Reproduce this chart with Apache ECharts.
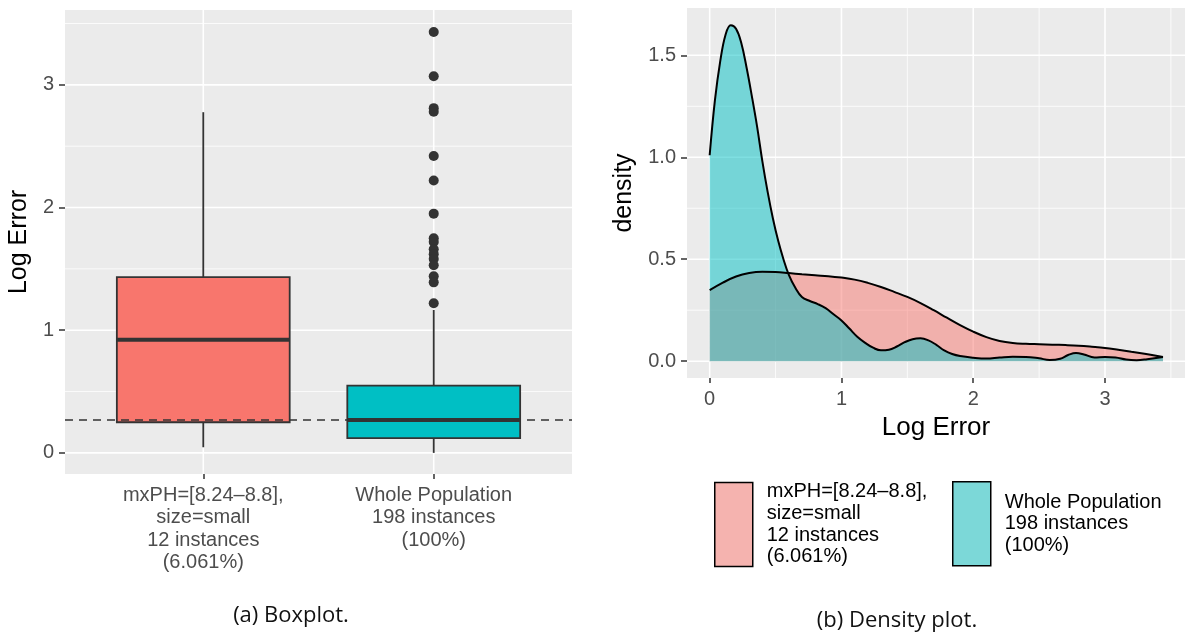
<!DOCTYPE html>
<html>
<head>
<meta charset="utf-8">
<script src="https://cdn.jsdelivr.net/npm/echarts@6/dist/echarts.min.js"></script>
<style>
  html, body { margin: 0; padding: 0; background: #ffffff; }
  #chart { width: 1185px; height: 637px; }
</style>
</head>
<body>
<div id="chart"></div>
<script>
// ---- data ----
const groupLabels = ['mxPH=[8.24\u20138.8],\nsize=small\n12 instances\n(6.061%)', 'Whole Population\n198 instances\n(100%)'];
const groupNames = ['subset', 'whole'];
const groupColors = ['#F8766D', '#00BFC4'];
// [position, lower whisker, Q1, median, Q3, upper whisker]
const subsetBox = [1, 0.046, 0.25, 0.923, 1.432, 2.777];
const wholeBox = [2, 0.0, 0.12, 0.269, 0.548, 1.165];
const wholeOutliers = [3.43, 3.07, 2.81, 2.78, 2.42, 2.22, 1.95, 1.75, 1.72, 1.66, 1.62, 1.58, 1.53, 1.44, 1.39, 1.22];
const boxTicks = [0, 1, 2, 3];
const boxMinor = [0.5, 1.5, 2.5, 3.5];

// density estimates over Log Error
const subsetDensityX = [0, 0.1, 0.2, 0.3, 0.4, 0.5, 0.6, 0.7, 0.8, 0.9, 1.0, 1.1, 1.2, 1.3, 1.4, 1.5, 1.6, 1.7, 1.8, 1.9, 2.0, 2.1, 2.2, 2.3, 2.4, 2.5, 2.6, 2.7, 2.8, 2.9, 3.0, 3.1, 3.2, 3.3, 3.44];
const subsetDensityY = [0.348, 0.385, 0.415, 0.432, 0.438, 0.437, 0.432, 0.426, 0.421, 0.417, 0.41, 0.40, 0.384, 0.364, 0.34, 0.315, 0.285, 0.25, 0.213, 0.177, 0.145, 0.118, 0.099, 0.089, 0.085, 0.083, 0.081, 0.079, 0.076, 0.071, 0.065, 0.056, 0.046, 0.036, 0.021];
const wholeDensityX = [0, 0.04, 0.08, 0.12, 0.16, 0.20, 0.24, 0.28, 0.32, 0.36, 0.40, 0.44, 0.48, 0.52, 0.56, 0.60, 0.65, 0.70, 0.76, 0.82, 0.88, 0.94, 1.0, 1.06, 1.12, 1.18, 1.24, 1.30, 1.36, 1.42, 1.48, 1.54, 1.60, 1.66, 1.72, 1.78, 1.84, 1.90, 2.0, 2.1, 2.2, 2.3, 2.4, 2.5, 2.58, 2.66, 2.72, 2.78, 2.84, 2.92, 3.0, 3.08, 3.16, 3.24, 3.32, 3.44];
const wholeDensityY = [1.01, 1.28, 1.47, 1.60, 1.648, 1.63, 1.56, 1.44, 1.30, 1.15, 0.98, 0.83, 0.70, 0.59, 0.50, 0.425, 0.36, 0.315, 0.295, 0.28, 0.26, 0.23, 0.20, 0.16, 0.12, 0.09, 0.066, 0.053, 0.056, 0.072, 0.093, 0.108, 0.112, 0.102, 0.08, 0.053, 0.035, 0.025, 0.017, 0.013, 0.018, 0.022, 0.021, 0.014, 0.006, 0.012, 0.03, 0.04, 0.033, 0.018, 0.02, 0.018, 0.008, 0.005, 0.01, 0.021];
const densityXTicks = [0, 1, 2, 3];
const densityXMinor = [0.5, 1.5, 2.5, 3.5];
const densityYTicks = [0, 0.5, 1.0, 1.5];
const densityYMinor = [0.25, 0.75, 1.25];
const captions = ['(a) Boxplot.', '(b) Density plot.'];

// ---- helpers ----
const FONT = '"Liberation Sans", Arial, Helvetica, sans-serif';
const INK = '#333333';
const BOX_WIDTH = 0.75;
const BOX_X = [0.4, 2.6], BOX_Y = [-0.172, 3.61];
const DEN_X = [-0.172, 3.607], DEN_Y = [-0.0825, 1.732];
const DENSITY_FILLS = ['rgba(248,118,109,0.5)', 'rgba(0,191,196,0.5)'];
const KEY_FILLS = ['#F5B3AF', '#7CD8D8'];

function zip(xs, ys) { return xs.map((x, i) => [x, ys[i]]); }

// white panel grid lines: [value, orientation (0 horizontal, 1 vertical), major(1)|minor(0)]
function gridLineData(hMajor, hMinor, vMajor, vMinor) {
  return [].concat(
    hMinor.map(v => [v, 0, 0]), vMinor.map(v => [v, 1, 0]),
    hMajor.map(v => [v, 0, 1]), vMajor.map(v => [v, 1, 1]));
}
function gridLineSeries(gridIdx, xr, yr, data) {
  return {
    type: 'custom', xAxisIndex: gridIdx, yAxisIndex: gridIdx, z: 1, silent: true,
    data: data,
    renderItem: function (params, api) {
      const v = api.value(0), vert = api.value(1) === 1, major = api.value(2) === 1;
      const a = vert ? api.coord([v, yr[0]]) : api.coord([xr[0], v]);
      const b = vert ? api.coord([v, yr[1]]) : api.coord([xr[1], v]);
      return {
        type: 'line', shape: { x1: a[0], y1: a[1], x2: b[0], y2: b[1] },
        style: { stroke: '#ffffff', lineWidth: major ? 1.6 : 0.8 }
      };
    },
    clip: true
  };
}

function legendFor(i, left) {
  return {
    data: [{ name: groupNames[i], itemStyle: { color: KEY_FILLS[i], borderColor: '#000', borderWidth: 1.5 } }],
    left: left, top: 476, itemWidth: 38, itemHeight: 84, icon: 'rect',
    formatter: () => groupLabels[i],
    textStyle: { fontSize: 20, lineHeight: 21.7, color: '#000', fontFamily: FONT, padding: [0, 0, 0, 9] },
    selectedMode: false
  };
}

function densitySeries(i, xs, ys) {
  return {
    type: 'line', name: groupNames[i], xAxisIndex: 1, yAxisIndex: 1, z: 3,
    data: zip(xs, ys),
    smooth: 0.4, showSymbol: false, symbol: 'none',
    itemStyle: { color: DENSITY_FILLS[i] },
    lineStyle: { color: '#000000', width: 2 },
    areaStyle: { color: DENSITY_FILLS[i], opacity: 1, origin: 0 }
  };
}

const chart = echarts.init(document.getElementById('chart'), null, { renderer: 'canvas' });

const option = {
  animation: false,
  backgroundColor: '#ffffff',
  textStyle: { fontFamily: FONT },
  grid: [
    { left: 65, top: 10, width: 507, height: 464, show: true, backgroundColor: '#EBEBEB', borderWidth: 0 },
    { left: 687, top: 8, width: 500, height: 370, show: true, backgroundColor: '#EBEBEB', borderWidth: 0 }
  ],
  xAxis: [
    {
      type: 'value', gridIndex: 0, min: BOX_X[0], max: BOX_X[1],
      splitLine: { show: false }, axisLine: { show: false, onZero: false },
      axisTick: { show: true, customValues: [1, 2], length: 5, lineStyle: { color: INK, width: 1.5 } },
      axisLabel: {
        customValues: [1, 2], color: '#4D4D4D', fontSize: 20, lineHeight: 22.5, margin: 10,
        fontFamily: FONT, formatter: v => groupLabels[Math.round(v) - 1]
      }
    },
    {
      type: 'value', gridIndex: 1, min: DEN_X[0], max: DEN_X[1],
      splitLine: { show: false }, axisLine: { show: false, onZero: false },
      axisTick: { show: true, customValues: densityXTicks, length: 5, lineStyle: { color: INK, width: 1.5 } },
      axisLabel: { customValues: densityXTicks, color: '#4D4D4D', fontSize: 20, margin: 11, fontFamily: FONT },
      name: 'Log Error', nameLocation: 'middle', nameGap: 37,
      nameTextStyle: { fontSize: 26, color: '#000000', fontFamily: FONT }
    }
  ],
  yAxis: [
    {
      type: 'value', gridIndex: 0, min: BOX_Y[0], max: BOX_Y[1],
      splitLine: { show: false }, axisLine: { show: false, onZero: false },
      axisTick: { show: true, customValues: boxTicks, length: 6, lineStyle: { color: INK, width: 1.5 } },
      axisLabel: { customValues: boxTicks, color: '#4D4D4D', fontSize: 20, margin: 11, fontFamily: FONT },
      name: 'Log Error', nameLocation: 'middle', nameGap: 33,
      nameTextStyle: { fontSize: 25, color: '#000000', fontFamily: FONT }
    },
    {
      type: 'value', gridIndex: 1, min: DEN_Y[0], max: DEN_Y[1],
      splitLine: { show: false }, axisLine: { show: false, onZero: false },
      axisTick: { show: true, customValues: densityYTicks, length: 6, lineStyle: { color: INK, width: 1.5 } },
      axisLabel: {
        customValues: densityYTicks, color: '#4D4D4D', fontSize: 20, margin: 11, fontFamily: FONT,
        formatter: v => v.toFixed(1)
      },
      name: 'density', nameLocation: 'middle', nameGap: 50,
      nameTextStyle: { fontSize: 25, color: '#000000', fontFamily: FONT }
    }
  ],
  legend: [legendFor(0, 709), legendFor(1, 947)],
  series: [
    gridLineSeries(0, BOX_X, BOX_Y, gridLineData(boxTicks, boxMinor, [1, 2], [])),
    gridLineSeries(1, DEN_X, DEN_Y, gridLineData(densityYTicks, densityYMinor, densityXTicks, densityXMinor)),
    {
      type: 'custom', name: 'boxes', xAxisIndex: 0, yAxisIndex: 0, z: 3,
      data: [subsetBox, wholeBox],
      renderItem: function (params, api) {
        const x = api.value(0);
        const lo = api.coord([x, api.value(1)]);
        const q1 = api.coord([x, api.value(2)]);
        const med = api.coord([x, api.value(3)]);
        const q3 = api.coord([x, api.value(4)]);
        const hi = api.coord([x, api.value(5)]);
        const w = api.size([BOX_WIDTH, 0])[0];
        const left = lo[0] - w / 2;
        const ls = { stroke: INK, lineWidth: 1.8 };
        return {
          type: 'group', children: [
            { type: 'line', shape: { x1: lo[0], y1: lo[1], x2: q1[0], y2: q1[1] }, style: ls },
            { type: 'line', shape: { x1: q3[0], y1: q3[1], x2: hi[0], y2: hi[1] }, style: ls },
            { type: 'rect', shape: { x: left, y: q3[1], width: w, height: q1[1] - q3[1] },
              style: { fill: groupColors[params.dataIndex], stroke: INK, lineWidth: 1.8 } },
            { type: 'line', shape: { x1: left, y1: med[1], x2: left + w, y2: med[1] },
              style: { stroke: INK, lineWidth: 4 } }
          ]
        };
      }
    },
    {
      type: 'scatter', name: 'outliers', xAxisIndex: 0, yAxisIndex: 0, z: 4,
      data: wholeOutliers.map(v => [wholeBox[0], v]),
      symbol: 'circle', symbolSize: 10,
      itemStyle: { color: INK, opacity: 1 },
      markLine: {
        silent: true, symbol: 'none', label: { show: false },
        lineStyle: { color: INK, type: [8, 6], width: 1.6 },
        data: [{ yAxis: wholeBox[3] }]
      }
    },
    densitySeries(0, subsetDensityX, subsetDensityY),
    densitySeries(1, wholeDensityX, wholeDensityY)
  ],
  graphic: [
    { type: 'text', x: 291, y: 616, style: { text: captions[0], fontSize: 22, fontFamily: '"Open Sans", Lato, sans-serif', fill: '#111', align: 'center', verticalAlign: 'middle' } },
    { type: 'text', x: 897, y: 621, style: { text: captions[1], fontSize: 22, fontFamily: '"Open Sans", Lato, sans-serif', fill: '#111', align: 'center', verticalAlign: 'middle' } }
  ]
};

chart.setOption(option);
</script>
</body>
</html>
